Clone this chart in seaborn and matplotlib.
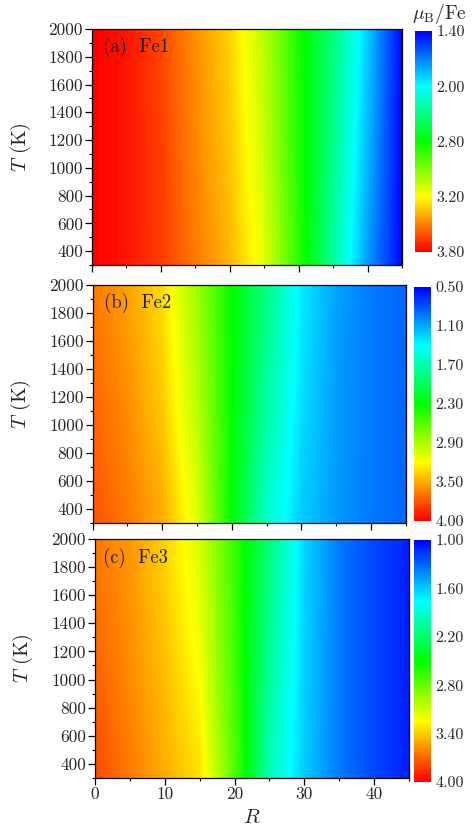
import numpy as np
import matplotlib
matplotlib.use("Agg")
import matplotlib.pyplot as plt
import seaborn as sns
from matplotlib.ticker import MultipleLocator, FixedLocator

# ---------------- data ----------------
R_centers = [0, 5, 10, 15, 20, 25, 30, 35, 40, 45]
T_centers = [300, 1150, 2000]

# magnetic moment (mu_B / Fe); rows: T = 300, 1150, 2000
fe1_T300 = [3.80, 3.75, 3.66, 3.51, 3.37, 3.13, 2.70, 2.22, 1.76, 1.40]
fe1_T1150 = [3.80, 3.75, 3.65, 3.48, 3.33, 3.07, 2.67, 2.27, 1.83, 1.40]
fe1_T2000 = [3.80, 3.75, 3.63, 3.46, 3.30, 3.03, 2.65, 2.31, 1.88, 1.40]

fe2_T300 = [3.72, 3.58, 3.41, 3.02, 2.22, 1.55, 1.20, 1.03, 0.92, 0.85]
fe2_T1150 = [3.65, 3.51, 3.30, 2.88, 2.25, 1.69, 1.27, 1.04, 0.92, 0.85]
fe2_T2000 = [3.58, 3.44, 3.23, 2.78, 2.25, 1.80, 1.31, 1.06, 0.92, 0.85]

fe3_T300 = [3.79, 3.64, 3.49, 3.34, 2.74, 1.96, 1.60, 1.36, 1.21, 1.09]
fe3_T1150 = [3.70, 3.58, 3.43, 3.22, 2.68, 2.05, 1.62, 1.36, 1.21, 1.09]
fe3_T2000 = [3.64, 3.55, 3.37, 3.13, 2.65, 2.14, 1.63, 1.36, 1.21, 1.09]

panel_labels = ["(a)  Fe1", "(b)  Fe2", "(c)  Fe3"]
vranges = [(1.40, 3.80), (0.50, 4.00), (1.00, 4.00)]
cbar_ticks = [
    [1.40, 2.00, 2.60, 3.20, 3.80],
    list(np.linspace(0.50, 4.00, 7)),
    [1.00, 1.60, 2.20, 2.80, 3.40, 4.00],
]
cbar_ticklabels = [
    ["1.40", "2.00", "2.80", "3.20", "3.80"],
    ["0.50", "1.10", "1.70", "2.30", "2.90", "3.50", "4.00"],
    ["1.00", "1.60", "2.20", "2.80", "3.40", "4.00"],
]
y_ticks = [400, 600, 800, 1000, 1200, 1400, 1600, 1800, 2000]
x_ticks = [0, 10, 20, 30, 40]

fields = [
    np.array([fe1_T300, fe1_T1150, fe1_T2000]),
    np.array([fe2_T300, fe2_T1150, fe2_T2000]),
    np.array([fe3_T300, fe3_T1150, fe3_T2000]),
]

# ---------------- style ----------------
sns.set_style("ticks")
plt.rcParams["font.family"] = ["cmr10", "DejaVu Serif"]
plt.rcParams["mathtext.fontset"] = "cm"
plt.rcParams["axes.formatter.use_mathtext"] = True
plt.rcParams["axes.unicode_minus"] = False
plt.rcParams["axes.edgecolor"] = "black"
plt.rcParams["axes.linewidth"] = 0.9

cmap = sns.blend_palette(["#0000ff", "#00ffff", "#00ff00", "#ffff00", "#ff0000"], as_cmap=True)

fig = plt.figure(figsize=(4.76, 8.30), dpi=100)

ax_rects = [
    [0.1933, 0.6807, 0.6513, 0.2843],
    [0.1947, 0.3699, 0.6576, 0.2867],
    [0.1996, 0.0627, 0.6597, 0.2880],
]
cb_rects = [
    [0.8718, 0.6964, 0.0357, 0.2663],
    [0.8697, 0.3723, 0.0357, 0.2819],
    [0.8697, 0.0578, 0.0357, 0.2916],
]
label_pos = [(0.035, 0.924), (0.035, 0.924), (0.025, 0.920)]

dR = R_centers[1] - R_centers[0]
dT = T_centers[1] - T_centers[0]
extent = [R_centers[0] - dR / 2, R_centers[-1] + dR / 2,
          T_centers[0] - dT / 2, T_centers[-1] + dT / 2]

tick_fs = 12.5
for i in range(3):
    ax = fig.add_axes(ax_rects[i])
    vmin, vmax = vranges[i]
    im = ax.imshow(fields[i], cmap=cmap, vmin=vmin, vmax=vmax, origin="lower",
                   extent=extent, aspect="auto", interpolation="bilinear",
                   interpolation_stage="data")
    ax.set_xlim(0, 45)
    ax.set_ylim(300, 2000)
    ax.yaxis.set_major_locator(FixedLocator(y_ticks))
    ax.yaxis.set_minor_locator(MultipleLocator(100))
    ax.xaxis.set_major_locator(FixedLocator(x_ticks))
    ax.xaxis.set_minor_locator(MultipleLocator(5))
    ax.tick_params(axis="both", which="major", direction="out", length=5,
                   width=0.9, labelsize=tick_fs, pad=1.5, color="black")
    ax.tick_params(axis="both", which="minor", direction="out", length=2.5,
                   width=0.8, color="black")
    ax.tick_params(top=False, right=False, which="both")
    for sp in ax.spines.values():
        sp.set_visible(True)
        sp.set_color("black")
    if i < 2:
        ax.tick_params(axis="x", labelbottom=False)
    else:
        ax.set_xticklabels([str(v) for v in x_ticks])
        ax.set_xlabel("$R$", fontsize=15)
        ax.xaxis.set_label_coords(0.5, -0.13)
    ax.set_yticklabels([str(v) for v in y_ticks])
    ax.set_ylabel("$T$ (K)", fontsize=14.5)
    ax.yaxis.set_label_coords(-0.19, 0.5)
    ax.text(label_pos[i][0], label_pos[i][1], panel_labels[i], transform=ax.transAxes,
            fontsize=13.5, ha="left", va="center", color="#1a1a1a")

    cax = fig.add_axes(cb_rects[i])
    cb = fig.colorbar(im, cax=cax)
    cb.outline.set_visible(False)
    cax.set_ylim(vmax, vmin)
    cb.set_ticks(cbar_ticks[i])
    cb.set_ticklabels(cbar_ticklabels[i])
    cax.tick_params(length=0, labelsize=11.5, pad=3)

fig.text(0.866, 0.983, r"$\mu_{\rm B}$/Fe", fontsize=14, ha="left", va="center")

fig.savefig("out.png", dpi=100)
